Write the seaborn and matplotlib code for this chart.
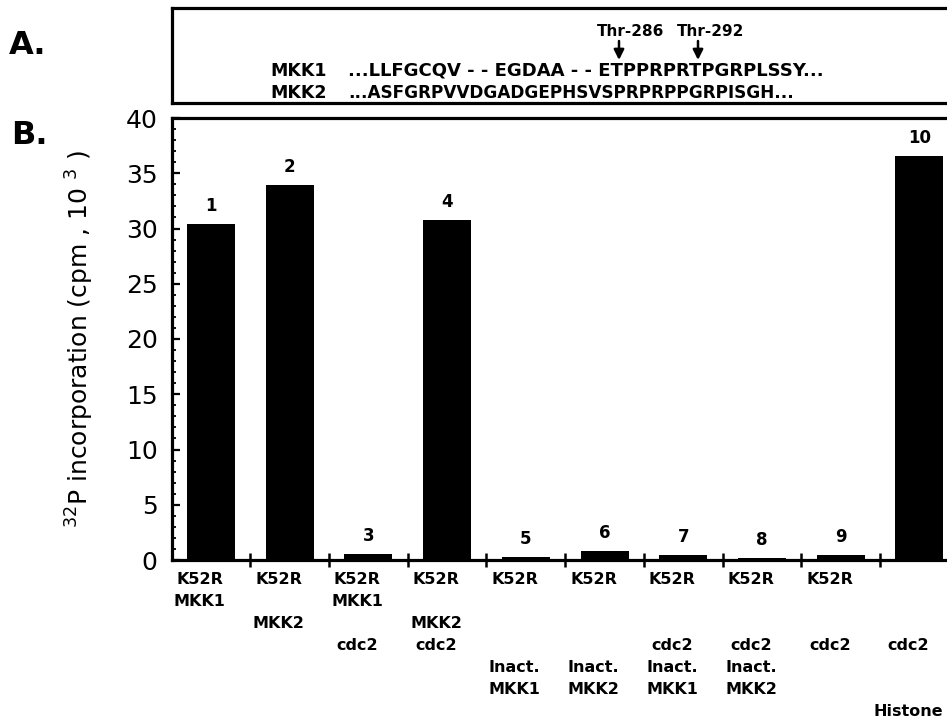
import matplotlib
matplotlib.use("Agg")
import matplotlib.pyplot as plt
import seaborn as sns
import pandas as pd
from matplotlib.ticker import MultipleLocator, FixedLocator

# ---------------- data ----------------
lane_numbers = ["1", "2", "3", "4", "5", "6", "7", "8", "9", "10"]
incorporation = [30.45, 33.9, 0.5, 30.75, 0.25, 0.8, 0.45, 0.15, 0.45, 36.6]
lane_labels = [
    "K52R\nMKK1\n\n\n\n\n",
    "K52R\n\nMKK2\n\n\n\n",
    "K52R\nMKK1\n\ncdc2\n\n\n",
    "K52R\n\nMKK2\ncdc2\n\n\n",
    "K52R\n\n\n\nInact.\nMKK1\n",
    "K52R\n\n\n\nInact.\nMKK2\n",
    "K52R\n\n\ncdc2\nInact.\nMKK1\n",
    "K52R\n\n\ncdc2\nInact.\nMKK2\n",
    "K52R\n\n\ncdc2\n\n\n",
    "\n\n\ncdc2\n\n\nHistone",
]
y_ticks = [0, 5, 10, 15, 20, 25, 30, 35, 40]
y_label = r"$^{32}$P incorporation (cpm , 10 $^{3}$ )"
seq_names = ["MKK1", "MKK2"]
seq_texts = ["...LLFGCQV - - EGDAA - - ETPPRPRTPGRPLSSY...",
             "...ASFGRPVVDGADGEPHSVSPRPRPPGRPISGH..."]
site_labels = ["Thr-286", "Thr-292"]

df = pd.DataFrame({"lane": lane_numbers, "value": incorporation})

# ---------------- style ----------------
sns.set_style("ticks")
plt.rcParams["font.family"] = ["DejaVu Sans"]
plt.rcParams["mathtext.default"] = "regular"
for k in ["text.color", "axes.labelcolor", "xtick.color", "ytick.color", "axes.edgecolor"]:
    plt.rcParams[k] = "black"

W, H = 947, 721
fig = plt.figure(figsize=(W / 100, H / 100), dpi=100)

ax_left, ax_right, ax_top, ax_bot = 171.5, 947, 118, 560
ax = fig.add_axes([ax_left / W, (H - ax_bot) / H, (ax_right - ax_left) / W, (ax_bot - ax_top) / H])

sns.barplot(data=df, x="lane", y="value", color="black", width=0.61,
            saturation=1, ax=ax, edgecolor="black", linewidth=0)

ax.set_xlim(-0.5, 9.35)
ax.set_ylim(0, 40)
for s in ["left", "bottom", "top"]:
    ax.spines[s].set_linewidth(2.3)
    ax.spines[s].set_color("black")
ax.spines["right"].set_visible(False)

ax.yaxis.set_major_locator(FixedLocator(y_ticks))
ax.yaxis.set_minor_locator(MultipleLocator(1))
ax.tick_params(axis="y", which="major", direction="in", length=5.5, width=1.6,
               labelsize=18, pad=10, colors="black")
ax.tick_params(axis="y", which="minor", direction="in", length=2.8, width=1.3, colors="black")
ax.set_yticklabels([str(t) for t in y_ticks])

ax.set_xticks(range(len(lane_numbers)))
ax.set_xticklabels([])
ax.tick_params(axis="x", which="major", length=0)
ax.xaxis.set_minor_locator(FixedLocator([i + 0.5 for i in range(len(lane_numbers) - 1)]))
ax.tick_params(axis="x", which="minor", direction="inout", length=10, width=1.8, colors="black")

ax.set_xlabel("")
ax.set_ylabel(y_label, fontsize=18, color="black")
ax.yaxis.set_label_coords(-0.098, 0.5)

# lane numbers above bars
for i, (n, v) in enumerate(zip(lane_numbers, incorporation)):
    ax.annotate(n, xy=(i, v), xytext=(0, 18), textcoords="offset pixels",
                ha="center", va="center", fontsize=12, fontweight="bold", color="black")

# multi-row lane descriptions
row_offsets = [20, 41, 63, 85, 108, 130, 152]
for i, lab in enumerate(lane_labels):
    for r, line in enumerate(lab.split("\n")):
        if line:
            ax.annotate(line, xy=(i, 0), xycoords=("data", "data"),
                        xytext=(-11, -row_offsets[r]), textcoords="offset pixels",
                        ha="center", va="center", fontsize=11.5, fontweight="bold",
                        color="black", annotation_clip=False)

# ---------------- panel A ----------------
axA = fig.add_axes([172 / W, (H - 103) / H, (947 - 172) / W, (103 - 8) / H])
axA.set_xlim(172, 947)
axA.set_ylim(103, 8)
axA.set_xticks([])
axA.set_yticks([])
for s in ["left", "bottom", "top"]:
    axA.spines[s].set_linewidth(2.3)
    axA.spines[s].set_color("black")
axA.spines["right"].set_visible(False)

for lbl, x in zip(site_labels, [631, 711]):
    axA.text(x, 32, lbl, ha="center", va="center", fontsize=11, fontweight="bold", color="black")
for x in [619, 698]:
    axA.annotate("", xy=(x, 60), xytext=(x, 41),
                 arrowprops=dict(arrowstyle="-|>", color="black", lw=1.8,
                                 mutation_scale=15, shrinkA=0, shrinkB=0))
for name, seq, y, fs in zip(seq_names, seq_texts, [71, 93], [13, 12.2]):
    axA.text(270, y, name, ha="left", va="center", fontsize=12.5, fontweight="bold", color="black")
    axA.text(348, y, seq, ha="left", va="center", fontsize=fs, fontweight="bold", color="black")

fig.text(9 / W, 1 - 45 / H, "A.", ha="left", va="center", fontsize=23, fontweight="bold", color="black")
fig.text(11 / W, 1 - 136 / H, "B.", ha="left", va="center", fontsize=23, fontweight="bold", color="black")

fig.savefig("out.png", dpi=100)
